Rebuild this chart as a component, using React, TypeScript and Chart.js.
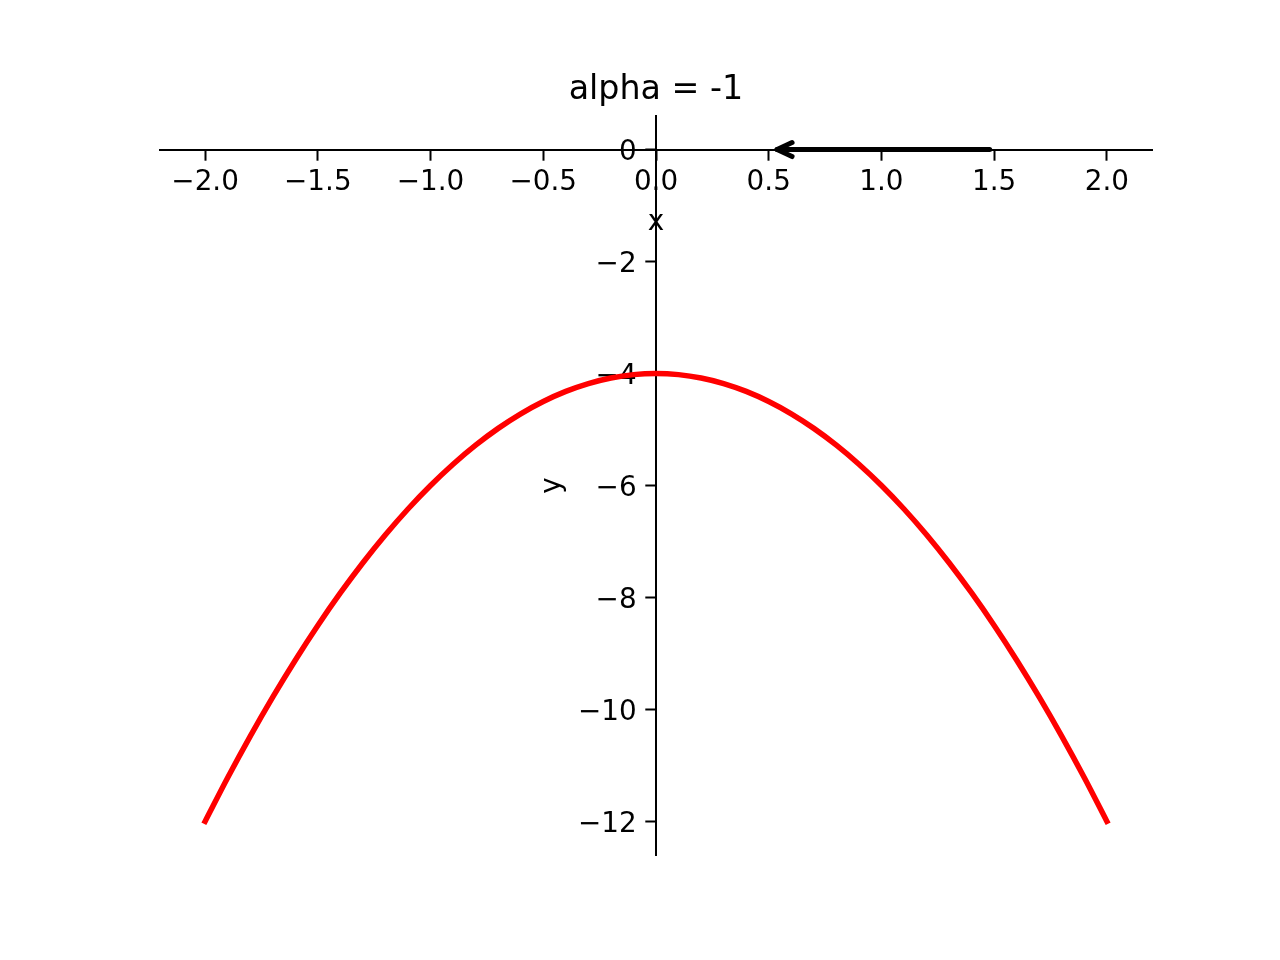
import React, { useEffect, useRef } from "react";
import { Chart, registerables } from "chart.js";

Chart.register(...registerables);

const titleText = "alpha = -1";
const xLabel = "x";
const yLabel = "y";

const curveX = [
  -2.0, -1.9, -1.8, -1.7, -1.6, -1.5, -1.4, -1.3, -1.2, -1.1, -1.0,
  -0.9, -0.8, -0.7, -0.6, -0.5, -0.4, -0.3, -0.2, -0.1, 0.0,
  0.1, 0.2, 0.3, 0.4, 0.5, 0.6, 0.7, 0.8, 0.9, 1.0,
  1.1, 1.2, 1.3, 1.4, 1.5, 1.6, 1.7, 1.8, 1.9, 2.0,
];
const curveY = [
  -12.0, -11.22, -10.48, -9.78, -9.12, -8.5, -7.92, -7.38, -6.88, -6.42, -6.0,
  -5.62, -5.28, -4.98, -4.72, -4.5, -4.32, -4.18, -4.08, -4.02, -4.0,
  -4.02, -4.08, -4.18, -4.32, -4.5, -4.72, -4.98, -5.28, -5.62, -6.0,
  -6.42, -6.88, -7.38, -7.92, -8.5, -9.12, -9.78, -10.48, -11.22, -12.0,
];

// arrow: tail -> tip
const arrowX = [1.48, 0.537];
const arrowY = [0, 0];

const xTicks = [-2, -1.5, -1, -0.5, 0, 0.5, 1, 1.5, 2];
const xTickLabels = ["\u22122.0", "\u22121.5", "\u22121.0", "\u22120.5", "0.0", "0.5", "1.0", "1.5", "2.0"];
const yTicks = [0, -2, -4, -6, -8, -10, -12];
const yTickLabels = ["0", "\u22122", "\u22124", "\u22126", "\u22128", "\u221210", "\u221212"];

const xRange = [-2.2, 2.2];
const yRange = [-12.6, 0.6];

const FONT = "DejaVu Sans";
const TICK_SIZE = 27.8;
const TITLE_SIZE = 33.3;

const overlayPlugin = {
  id: "overlay",
  afterDatasetsDraw(chart: any) {
    const { ctx, scales, chartArea } = chart;
    const xs = scales.x;
    const ys = scales.y;
    // arrow head
    const tipX = xs.getPixelForValue(arrowX[1]);
    const tipY = ys.getPixelForValue(arrowY[1]);
    ctx.save();
    ctx.strokeStyle = "#000";
    ctx.lineWidth = 5;
    ctx.lineCap = "round";
    ctx.lineJoin = "round";
    ctx.beginPath();
    ctx.moveTo(tipX + 15, tipY - 7);
    ctx.lineTo(tipX, tipY);
    ctx.lineTo(tipX + 15, tipY + 7);
    ctx.stroke();
    ctx.restore();

    // axis labels
    ctx.save();
    ctx.fillStyle = "#000";
    ctx.font = `${TICK_SIZE}px "${FONT}"`;
    ctx.textAlign = "center";
    ctx.textBaseline = "middle";
    const cx = (chartArea.left + chartArea.right) / 2;
    ctx.fillText(xLabel, cx, ys.getPixelForValue(0) + 73);
    ctx.translate(xs.getPixelForValue(0) - 103, (chartArea.top + chartArea.bottom) / 2);
    ctx.rotate(-Math.PI / 2);
    ctx.fillText(yLabel, 0, 0);
    ctx.restore();
  },
};

export default function App() {
  const ref = useRef<HTMLCanvasElement | null>(null);
  useEffect(() => {
    if (!ref.current) return;
    Chart.defaults.font.family = FONT;
    const chart = new Chart(ref.current, {
      type: "scatter",
      data: {
        datasets: [
          {
            data: curveX.map((x, i) => ({ x, y: curveY[i] })),
            showLine: true,
            borderColor: "#ff0000",
            backgroundColor: "#ff0000",
            borderWidth: 5.5,
            borderCapStyle: "square",
            cubicInterpolationMode: "monotone",
            pointRadius: 0,
            pointHoverRadius: 0,
          },
          {
            data: arrowX.map((x, i) => ({ x, y: arrowY[i] })),
            showLine: true,
            borderColor: "#000000",
            backgroundColor: "#000000",
            borderWidth: 5,
            borderCapStyle: "round",
            pointRadius: 0,
            pointHoverRadius: 0,
          },
        ],
      },
      options: {
        responsive: false,
        animation: false,
        events: [],
        layout: { padding: { left: 160, right: 128, top: 70, bottom: 105 } },
        plugins: {
          legend: { display: false },
          tooltip: { enabled: false },
          title: {
            display: true,
            text: titleText,
            fullSize: false,
            color: "#000",
            font: { family: FONT, size: TITLE_SIZE, weight: "normal", lineHeight: 1.2 },
            padding: { top: 0, bottom: 6 },
          },
        },
        scales: {
          x: {
            type: "linear",
            min: xRange[0],
            max: xRange[1],
            position: { y: 0 } as any,
            afterBuildTicks: (scale: any) => {
              scale.ticks = xTicks.map((v) => ({ value: v }));
            },
            grid: {
              drawOnChartArea: false,
              drawTicks: true,
              tickLength: 9.7,
              tickWidth: 2,
              tickColor: "#000",
            },
            border: { display: true, color: "#000", width: 2 },
            ticks: {
              color: "#000",
              font: { family: FONT, size: TICK_SIZE },
              padding: 7,
              autoSkip: false,
              maxRotation: 0,
              minRotation: 0,
              callback: (v: any) => {
                const i = xTicks.indexOf(Number(v));
                return i >= 0 ? xTickLabels[i] : "";
              },
            },
          },
          y: {
            type: "linear",
            min: yRange[0],
            max: yRange[1],
            position: "center",
            afterBuildTicks: (scale: any) => {
              scale.ticks = yTicks.map((v) => ({ value: v }));
            },
            grid: {
              drawOnChartArea: false,
              drawTicks: true,
              tickLength: 9.7,
              tickWidth: 2,
              tickColor: "#000",
            },
            border: { display: true, color: "#000", width: 2 },
            ticks: {
              color: "#000",
              font: { family: FONT, size: TICK_SIZE },
              padding: 9.7,
              labelOffset: 3,
              autoSkip: false,
              callback: (v: any) => {
                const i = yTicks.indexOf(Number(v));
                return i >= 0 ? yTickLabels[i] : "";
              },
            },
          },
        },
      },
      plugins: [overlayPlugin],
    });
    return () => chart.destroy();
  }, []);
  return (
    <div style={{ position: "absolute", left: 0, top: 0, width: 1280, height: 960, background: "#fff" }}>
      <canvas ref={ref} width={1280} height={960} />
    </div>
  );
}
